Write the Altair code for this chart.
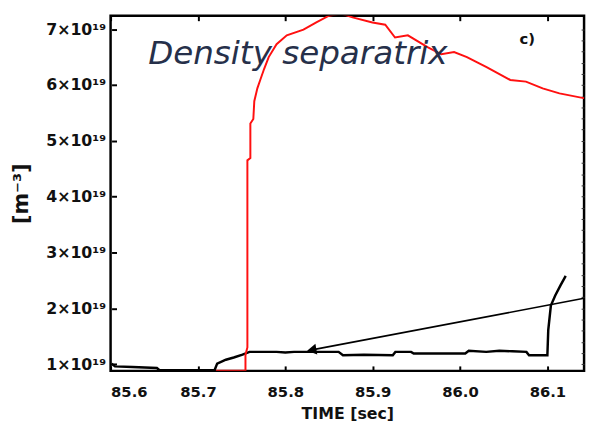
import altair as alt
import pandas as pd

# --- data (time in s, density in units of 1e19 m^-3) ---
red_t = [85.7206, 85.7544, 85.7544, 85.7566, 85.7566, 85.7600, 85.7600, 85.7634, 85.7645,
         85.7680, 85.7713, 85.7758, 85.7810, 85.7900, 85.8017, 85.8208, 85.8355, 85.8500,
         85.8637, 85.8770, 85.8997, 85.9144, 85.9256, 85.9403, 85.9628, 85.9786, 85.9932,
         86.0079, 86.0304, 86.0575, 86.0755, 86.0946, 86.1138, 86.1430]
red_v = [0.88, 0.88, 1.17, 1.30, 4.65, 4.69, 5.31, 5.39, 5.71,
         5.94, 6.09, 6.29, 6.50, 6.73, 6.89, 6.99, 7.12, 7.24,
         7.28, 7.21, 7.12, 7.08, 6.85, 6.89, 6.68, 6.55, 6.59,
         6.50, 6.32, 6.09, 6.06, 5.94, 5.85, 5.76]

black_t = [85.601, 85.605, 85.625, 85.653, 85.656, 85.719, 85.722, 85.732, 85.741, 85.751,
           85.759, 85.790, 85.800, 85.810, 85.830, 85.861, 85.866, 85.890, 85.923, 85.926,
           85.944, 85.947, 85.975, 86.006, 86.010, 86.030, 86.045, 86.060, 86.076, 86.079,
           86.100, 86.101, 86.104, 86.109, 86.115, 86.121]
black_v = [1.01, 0.96, 0.95, 0.93, 0.89, 0.89, 1.01, 1.08, 1.12, 1.17,
           1.22, 1.22, 1.21, 1.22, 1.22, 1.22, 1.16, 1.17, 1.16, 1.22,
           1.22, 1.19, 1.19, 1.19, 1.24, 1.22, 1.24, 1.23, 1.22, 1.16,
           1.16, 1.61, 2.05, 2.23, 2.41, 2.58]

arrow_t = [85.832, 86.142]
arrow_v = [1.26, 2.18]

x_ticks = [85.6, 85.7, 85.8, 85.9, 86.0, 86.1]
y_ticks = [1, 2, 3, 4, 5, 6, 7]
y_minor = [round(1 + 0.2 * i, 1) for i in range(31)]

label_t = [85.643]
label_v = [6.37]
label_txt = ["Density separatrix"]
panel_t = [86.068]
panel_v = [6.73]
panel_txt = ["c)"]

X_DOMAIN = [85.6, 86.142]
Y_DOMAIN = [0.88, 7.24]

red = pd.DataFrame({"t": red_t, "v": red_v, "o": range(len(red_t))})
black = pd.DataFrame({"t": black_t, "v": black_v, "o": range(len(black_t))})
arrow = pd.DataFrame({"t": arrow_t, "v": arrow_v, "o": range(2)})
tip = arrow.iloc[[0]]
lab = pd.DataFrame({"t": label_t, "v": label_v, "s": label_txt})
pan = pd.DataFrame({"t": panel_t, "v": panel_v, "s": panel_txt})

FONT = "DejaVu Sans"
xs = alt.Scale(domain=X_DOMAIN, nice=False, zero=False)
ys = alt.Scale(domain=Y_DOMAIN, nice=False, zero=False)

x_bottom = alt.Axis(values=x_ticks, format=".1f", orient="bottom", domain=False, grid=False,
                    offset=-5, tickSize=5, tickWidth=2, tickColor="black",
                    labelFont=FONT, labelFontWeight="bold", labelFontSize=15, labelColor="#111",
                    labelPadding=14, title="TIME [sec]", titleFont=FONT, titleFontSize=16,
                    titleFontWeight="bold", titleColor="#111", titlePadding=6)
y_left = alt.Axis(values=y_ticks, orient="left", domain=False, grid=False,
                  offset=-6, tickSize=5, tickWidth=2, tickColor="black",
                  labelExpr="datum.value + '×10¹⁹'",
                  labelFont=FONT, labelFontWeight="bold", labelFontSize=16, labelColor="#111",
                  labelPadding=6, title="[m⁻³]", titleFont=FONT, titleFontSize=21,
                  titleFontWeight="bold", titleColor="#111", titlePadding=14)
x_top = alt.Axis(values=x_ticks, orient="top", domain=False, grid=False, labels=False,
                 offset=-5, tickSize=5, tickWidth=2, tickColor="black", title=None)
y_right = alt.Axis(values=y_minor, orient="right", domain=False, grid=False, labels=False,
                   offset=-3, tickSize=3, tickWidth=1, tickColor="#333", title=None)

base_black = alt.Chart(black).mark_line(color="black", strokeWidth=2.5, clip=True).encode(
    x=alt.X("t:Q", scale=xs, axis=x_bottom),
    y=alt.Y("v:Q", scale=ys, axis=y_left),
    order="o:Q",
)
red_line = alt.Chart(red).mark_line(color="#ff1010", strokeWidth=2, clip=True).encode(
    x=alt.X("t:Q", scale=xs, axis=x_top),
    y=alt.Y("v:Q", scale=ys, axis=y_right),
    order="o:Q",
)
arrow_line = alt.Chart(arrow).mark_line(color="black", strokeWidth=1.6, clip=True).encode(
    x=alt.X("t:Q", scale=xs, axis=None),
    y=alt.Y("v:Q", scale=ys, axis=None),
    order="o:Q",
)
arrow_head = alt.Chart(tip).mark_point(shape="triangle", filled=True, color="black",
                                       size=120, angle=260, opacity=1).encode(
    x=alt.X("t:Q", scale=xs, axis=None),
    y=alt.Y("v:Q", scale=ys, axis=None),
)
title_txt = alt.Chart(lab).mark_text(font="DejaVu Sans", fontStyle="italic", fontSize=33,
                                     color="#26304a", align="left", baseline="alphabetic").encode(
    x=alt.X("t:Q", scale=xs, axis=None),
    y=alt.Y("v:Q", scale=ys, axis=None),
    text="s:N",
)
panel_label = alt.Chart(pan).mark_text(font=FONT, fontWeight="bold", fontSize=15,
                                       color="#111", align="left", baseline="alphabetic").encode(
    x=alt.X("t:Q", scale=xs, axis=None),
    y=alt.Y("v:Q", scale=ys, axis=None),
    text="s:N",
)

chart = alt.layer(base_black, red_line, arrow_line, arrow_head, title_txt, panel_label).resolve_axis(
    x="independent", y="independent"
).properties(
    width=480, height=360,
    autosize=alt.AutoSizeParams(type="none"),
    padding={"left": 104, "top": 5, "right": 5, "bottom": 50},
).configure(background="white").configure_view(stroke="black", strokeWidth=2.5)

chart.save("out.html", embed_options={"renderer": "svg", "actions": False})
